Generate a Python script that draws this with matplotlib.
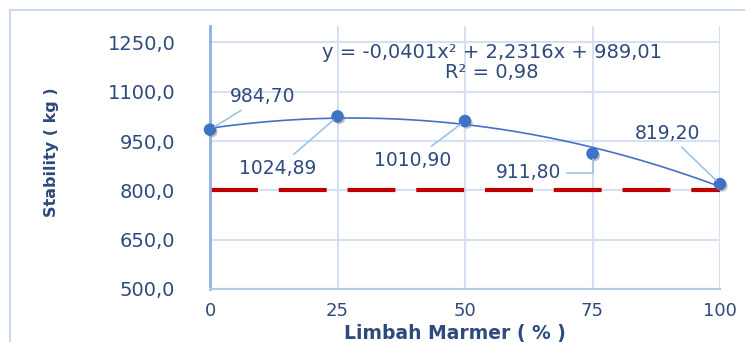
import numpy as np
import matplotlib
matplotlib.use("Agg")
import matplotlib.pyplot as plt
import matplotlib.patheffects as pe
from matplotlib.lines import Line2D
from matplotlib.ticker import FuncFormatter

# data
limbah = [0, 25, 50, 75, 100]
stability = [984.70, 1024.89, 1010.90, 911.80, 819.20]
value_labels = ["984,70", "1024,89", "1010,90", "911,80", "819,20"]
min_stability = 800
y_ticks = [500, 650, 800, 950, 1100, 1250]
x_ticks = [0, 25, 50, 75, 100]
equation_text = "y = -0,0401x\u00b2 + 2,2316x + 989,01"
r2_text = "R\u00b2 = 0,98"

text_col = "#2E4A7D"
grid_col = "#D5E1F2"
point_col = "#3F73C4"

fig = plt.figure(figsize=(7.45, 3.42), dpi=100)
ax = fig.add_axes([210/745, 1 - 289/342, 510/745, 263/342])

# outer chart frame (cropped at right and bottom)
fig.add_artist(Line2D([10/745, 10/745], [0, 1 - 10/342], color="#C9D9F0", lw=1.5))
fig.add_artist(Line2D([10/745, 1], [1 - 10/342, 1 - 10/342], color="#C9D9F0", lw=1.5))

# polynomial trendline fitted on the data
coef = np.polyfit(limbah, stability, 2)
xs = np.linspace(0, 100, 200)
ax.plot(xs, np.polyval(coef, xs), color="#4472C4", lw=1.2, zorder=3)

# data points with a soft shadow
ax.plot(limbah, stability, "o", color=point_col, ms=8, mec=point_col, zorder=4,
        clip_on=False,
        path_effects=[pe.SimplePatchShadow(offset=(1.5, -1.5), shadow_rgbFace="#888888", alpha=0.5),
                      pe.Normal()])

# minimum requirement line
ax.axhline(min_stability, color="#C00000", lw=3, dashes=(11.5, 5), zorder=2)

# data labels with leader lines
offsets = [(53, 33), (-60, -52), (-52, -39), (-64, -19), (-53, 51)]
styles = ["arc3", "arc3", "arc3", "angle,angleA=0,angleB=90,rad=0", "arc3"]
for x, y, lab, off, cs in zip(limbah, stability, value_labels, offsets, styles):
    ax.annotate(lab, (x, y), xytext=off, textcoords="offset pixels",
                ha="center", va="center", fontsize=13.5, color=text_col,
                arrowprops=dict(arrowstyle="-", color="#9DC3E6", lw=1.2,
                                shrinkA=2, shrinkB=4, connectionstyle=cs),
                annotation_clip=False, zorder=5)

ax.text(492/745, 1 - 52/342, equation_text, transform=fig.transFigure,
        ha="center", va="center", fontsize=14, color=text_col)
ax.text(492/745, 1 - 73/342, r2_text, transform=fig.transFigure,
        ha="center", va="center", fontsize=14, color=text_col)

ax.set_xlim(0, 100)
ax.set_ylim(500, 1300)
ax.set_xticks(x_ticks)
ax.set_yticks(y_ticks)
ax.yaxis.set_major_formatter(FuncFormatter(lambda v, p: f"{v:.1f}".replace(".", ",")))
ax.grid(True, color=grid_col, lw=1.5)
ax.set_axisbelow(True)
ax.tick_params(length=0, labelcolor=text_col)
ax.tick_params(axis="y", pad=25, labelsize=14)
ax.tick_params(axis="x", pad=16, labelsize=13)
for lab in ax.get_xticklabels():
    lab.set_va("center")

for s in ["top", "right"]:
    ax.spines[s].set_visible(False)
ax.spines["left"].set_color("#8EB0E0")
ax.spines["left"].set_linewidth(2)
ax.spines["bottom"].set_color("#B4C9EA")
ax.spines["bottom"].set_linewidth(1.5)

fig.text(52/745, 1 - 152/342, "Stability ( kg )", rotation=90, ha="center", va="center",
         fontsize=11.5, fontweight="bold", color=text_col)
fig.text(455/745, 1 - 334/342, "Limbah Marmer ( % )", ha="center", va="center",
         fontsize=13.5, fontweight="bold", color=text_col)

fig.savefig("out.png", dpi=100)
